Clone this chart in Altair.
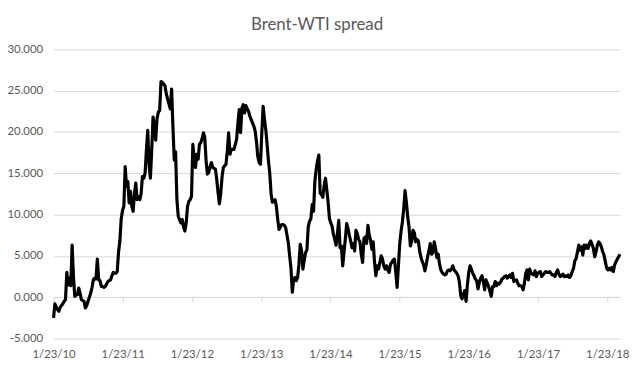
import altair as alt
import pandas as pd

# Weekly Brent-WTI spread, first week 1/23/2010
START = "2010-01-23"
spread = [
    -2.5, -0.8, -1.2, -1.5, -1.7, -1.2, -1.0, -0.8, -0.5, -0.3,
    3.0, 1.5, 2.3, 1.4, 6.3, 2.5, 0.1, 0.3, 0.3, 1.1,
    0.5, -0.3, -0.4, -0.5, -1.3, -1.0, -0.5, 0.0, 0.5, 1.2,
    2.1, 2.3, 2.2, 4.6, 2.1, 2.0, 1.3, 1.3, 1.2, 1.3,
    1.6, 1.9, 2.0, 2.1, 2.6, 3.0, 2.9, 2.9, 3.1, 5.5,
    6.8, 9.5, 10.5, 11.0, 15.8, 13.4, 14.0, 11.4, 12.8, 11.0,
    10.4, 12.6, 13.8, 11.8, 12.2, 11.8, 12.5, 14.6, 14.4, 15.0,
    17.8, 20.2, 16.0, 14.4, 17.8, 21.8, 20.6, 19.0, 21.6, 22.4,
    22.6, 26.1, 26.0, 25.8, 25.6, 24.6, 24.0, 23.4, 22.8, 25.2,
    20.6, 16.6, 17.6, 11.8, 9.8, 9.4, 9.0, 9.4, 8.5, 8.0,
    9.0, 11.0, 11.6, 11.8, 12.2, 18.5, 17.0, 15.7, 17.3, 16.7,
    18.5, 18.7, 19.2, 19.9, 19.3, 16.5, 14.9, 15.1, 15.8, 16.3,
    15.7, 15.6, 15.5, 14.3, 12.7, 11.3, 12.5, 14.5, 15.7, 15.9,
    16.1, 17.7, 19.9, 17.3, 17.9, 17.9, 17.9, 18.5, 19.1, 21.1,
    22.7, 19.9, 22.9, 23.3, 22.3, 23.2, 22.8, 22.5, 21.9, 21.5,
    21.1, 20.7, 20.1, 18.8, 17.0, 16.3, 16.1, 19.9, 23.1, 21.5,
    20.3, 18.5, 16.5, 15.0, 12.5, 11.5, 11.6, 11.8, 11.0, 9.4,
    8.2, 8.5, 8.8, 8.8, 8.7, 8.4, 7.5, 6.6, 5.0, 3.5,
    0.6, 2.2, 2.4, 2.0, 2.4, 4.0, 6.4, 5.6, 3.4, 4.5,
    5.4, 5.7, 8.5, 9.2, 9.5, 11.2, 10.4, 14.0, 15.5, 16.5,
    17.2, 12.6, 12.4, 12.1, 13.5, 14.4, 13.0, 11.5, 9.5, 9.0,
    8.6, 7.6, 7.0, 6.3, 7.7, 9.3, 6.0, 6.2, 3.8, 5.5,
    7.1, 8.9, 8.3, 7.5, 6.8, 6.0, 6.5, 5.6, 8.1, 7.7,
    7.0, 6.7, 5.2, 4.2, 7.1, 7.3, 6.5, 8.7, 7.5, 6.9,
    5.8, 6.7, 4.2, 2.6, 3.8, 3.4, 4.2, 5.0, 4.6, 3.8,
    3.4, 3.8, 3.3, 3.0, 4.0, 4.2, 4.5, 4.6, 3.0, 1.2,
    3.8, 6.5, 8.0, 9.1, 10.7, 12.9, 11.5, 9.7, 8.5, 6.2,
    6.8, 8.1, 7.8, 6.7, 7.0, 6.8, 5.6, 4.8, 4.3, 3.9,
    3.2, 4.0, 4.9, 5.6, 6.5, 5.2, 5.4, 6.7, 5.9, 4.8,
    5.2, 4.0, 3.3, 3.0, 2.8, 2.7, 2.8, 3.2, 3.3, 3.2,
    3.4, 3.8, 3.3, 3.1, 2.9, 2.6, 1.8, 0.2, -0.2, 0.3,
    0.8, -0.5, 1.5, 3.0, 3.8, 3.4, 2.9, 2.6, 2.2, 2.0,
    1.0, 1.8, 2.3, 2.6, 1.9, 0.9, 2.1, 1.7, 1.3, 0.7,
    0.1, 1.3, 1.3, 1.9, 1.4, 1.7, 1.6, 1.8, 2.2, 2.3,
    2.5, 2.6, 2.3, 2.5, 2.7, 2.4, 2.9, 1.9, 2.0, 2.1,
    1.7, 1.4, 1.4, 1.3, 0.9, 1.7, 2.9, 3.3, 2.1, 3.4,
    2.9, 2.8, 2.7, 3.2, 2.5, 2.9, 3.0, 3.1, 2.5, 2.7,
    2.9, 3.1, 3.0, 3.0, 3.1, 2.9, 2.7, 2.7, 2.5, 3.0,
    3.3, 2.8, 2.5, 2.6, 2.8, 2.5, 2.6, 2.5, 2.7, 2.4,
    2.6, 3.1, 3.5, 4.4, 4.7, 5.5, 6.3, 5.7, 6.1, 5.1,
    6.3, 5.9, 6.3, 5.9, 6.5, 6.8, 6.4, 5.9, 4.9, 5.5,
    6.3, 6.7, 6.5, 6.1, 5.5, 5.1, 4.3, 3.5, 3.3, 3.5,
    3.3, 3.6, 3.1, 3.9, 4.3, 4.6, 4.9, 5.2,
]

tick_years = [2010, 2011, 2012, 2013, 2014, 2015, 2016, 2017, 2018]
y_ticks = [-5, 0, 5, 10, 15, 20, 25, 30]
title_text = "Brent-WTI spread"

dates = pd.date_range(START, periods=len(spread), freq="7D")
df = pd.DataFrame({"date": dates, "spread": spread})

TEXT = "#595959"
GRID = "#d9d9d9"
FONT = "Lato"

x_enc = alt.X(
    "date:T",
    scale=alt.Scale(domain=[alt.DateTime(year=2010, month=1, date=23),
                            alt.DateTime(year=2018, month=4, date=1)]),
    axis=alt.Axis(
        values=[alt.DateTime(year=yr, month=1, date=23) for yr in tick_years],
        format="%-m/%-d/%y", title=None, grid=False,
        domain=True, domainColor=GRID, domainWidth=1,
        ticks=True, tickColor=GRID, tickSize=5, tickWidth=1,
        offset=-42, labelPadding=47,
        labelColor=TEXT, labelFont=FONT, labelFontSize=11.5,
        labelFlush=False, labelOverlap=False, labelBound=False,
    ),
)

y_enc = alt.Y(
    "spread:Q",
    scale=alt.Scale(domain=[-5, 30], nice=False, zero=False),
    axis=alt.Axis(
        values=y_ticks, title=None, grid=True, gridColor=GRID, gridWidth=1,
        domain=False, ticks=False, labelPadding=11,
        labelColor=TEXT, labelFont=FONT, labelFontSize=11.5,
        labelExpr="(datum.value < 0 ? '-' : '') + format(abs(datum.value), '.3f')",
    ),
)

chart = (
    alt.Chart(df)
    .mark_line(color="black", strokeWidth=3.2, strokeJoin="round")
    .encode(x=x_enc, y=y_enc)
    .properties(
        width=572, height=292,
        padding={"left": 46, "top": 40, "right": 12, "bottom": 24},
        autosize=alt.AutoSizeParams(type="none"),
        title=alt.Title(title_text, font=FONT, fontSize=17, fontWeight="normal",
                        color=TEXT, anchor="middle", dx=-20, offset=10),
        background="white",
    )
    .configure_view(stroke=None)
)

chart.save("out.html", embed_options={"renderer": "svg", "actions": False})
